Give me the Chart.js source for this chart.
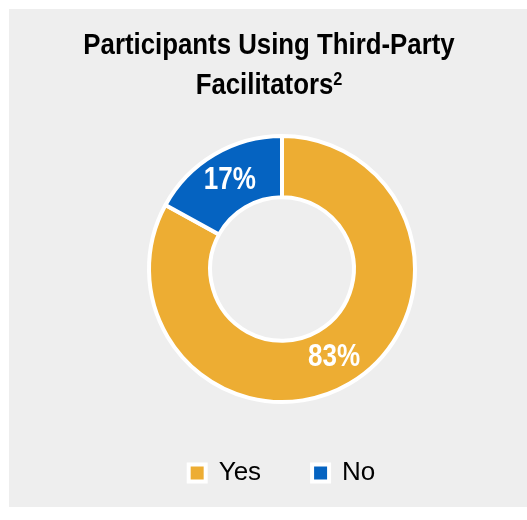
<!DOCTYPE html>
<html>
<head>
<meta charset="utf-8">
<script src="https://cdn.jsdelivr.net/npm/chart.js@4"></script>
<style>
  html, body { margin: 0; padding: 0; background: #ffffff; }
  #wrap { position: relative; width: 527px; height: 520px; }
  #box { position: absolute; left: 9px; top: 9px; width: 518px; height: 498px; background: #eeeeee; }
  #donut { display: block; }
</style>
</head>
<body>
<div id="wrap">
  <div id="box"><canvas id="donut" width="518" height="498"></canvas></div>
</div>
<script>
// Share of participants using a third-party facilitator
const labels = ['Yes', 'No'];
const shares = [83, 17];
const sliceColors = ['#EDAD33', '#0563C1'];

const titleLines = ['Participants Using Third-Party', 'Facilitators'];
const titleNote = '2';

const fontFamily = "'Liberation Sans', Arial, sans-serif";
// squeeze drawn text a little so it reads like a narrow face
const labelSqueeze = 0.84;
const titleSqueeze = 0.86;

// Percent labels in the middle of each ring slice
const sliceLabels = {
    id: 'sliceLabels',
    afterDatasetsDraw(chart) {
        const ctx = chart.ctx;
        const meta = chart.getDatasetMeta(0);
        ctx.save();
        ctx.fillStyle = '#ffffff';
        ctx.font = 'bold 31px ' + fontFamily;
        ctx.textAlign = 'center';
        ctx.textBaseline = 'middle';
        meta.data.forEach((arc, i) => {
            const pos = arc.tooltipPosition();
            ctx.save();
            ctx.translate(pos.x, pos.y);
            ctx.scale(labelSqueeze, 1);
            ctx.fillText(shares[i] + '%', 0, 0);
            ctx.restore();
        });
        ctx.restore();
    }
};

// Two-line heading with a superscript footnote mark
const heading = {
    id: 'heading',
    afterDraw(chart) {
        const ctx = chart.ctx;
        const cx = 260;
        ctx.save();
        ctx.fillStyle = '#000000';
        ctx.textBaseline = 'alphabetic';
        ctx.translate(cx, 0);
        ctx.scale(titleSqueeze, 1);

        ctx.font = 'bold 30px ' + fontFamily;
        ctx.textAlign = 'center';
        ctx.fillText(titleLines[0], 0, 45);

        const mainW = ctx.measureText(titleLines[1]).width;
        ctx.font = 'bold 19px ' + fontFamily;
        const noteW = ctx.measureText(titleNote).width;
        const startX = -(mainW + noteW) / 2;
        ctx.textAlign = 'left';
        ctx.font = 'bold 30px ' + fontFamily;
        ctx.fillText(titleLines[1], startX, 85);
        ctx.font = 'bold 19px ' + fontFamily;
        ctx.fillText(titleNote, startX + mainW, 76);
        ctx.restore();
    }
};

const ctx = document.getElementById('donut').getContext('2d');
const donutChart = new Chart(ctx, {
    type: 'doughnut',
    data: {
        labels: labels,
        datasets: [{
            data: shares,
            backgroundColor: sliceColors,
            borderColor: '#ffffff',
            borderWidth: 4,
            hoverOffset: 0
        }]
    },
    options: {
        responsive: false,
        animation: false,
        radius: 133,
        cutout: '54%',
        layout: {
            padding: { left: 28, top: 120, bottom: 11 }
        },
        plugins: {
            title: { display: false },
            tooltip: { enabled: false },
            legend: {
                position: 'bottom',
                labels: {
                    color: '#000000',
                    boxWidth: 17,
                    boxHeight: 17,
                    padding: 51,
                    font: { family: fontFamily, size: 26 }
                }
            }
        }
    },
    plugins: [sliceLabels, heading]
});
</script>
</body>
</html>
